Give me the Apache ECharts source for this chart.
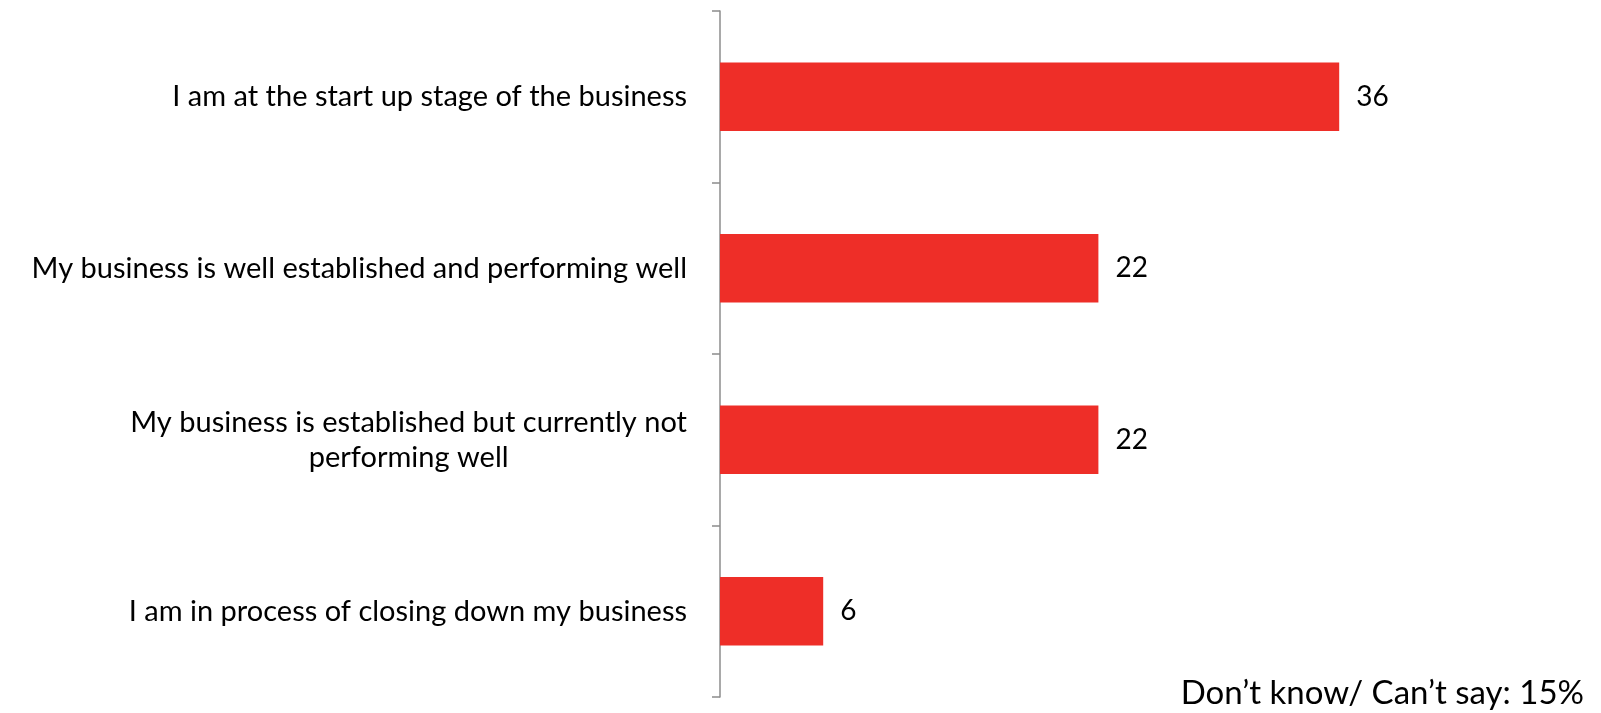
<!DOCTYPE html>
<html>
<head>
<meta charset="utf-8">
<script src="https://cdn.jsdelivr.net/npm/echarts@6/dist/echarts.min.js"></script>
<style>
  html, body { margin: 0; padding: 0; background: #fff; }
  #chart { width: 1601px; height: 713px; }
</style>
</head>
<body>
<div id="chart"></div>
<script>
// Business stage categories, top to bottom
const categories = [
  'I am at the start up stage of the business',
  'My business is well established and performing well',
  'My business is established but currently not\nperforming well',
  'I am in process of closing down my business'
];
// Share of respondents (%)
const values = [36, 22, 22, 6];
const footnote = 'Don\u2019t know/ Can\u2019t say: 15%';

const FONT = 'Lato';
const chart = echarts.init(document.getElementById('chart'));

chart.setOption({
  animation: false,
  grid: { left: 720, top: 11, width: 688, height: 686 },
  xAxis: {
    type: 'value', min: 0, max: 40, show: false
  },
  yAxis: {
    type: 'category',
    data: categories,
    inverse: true,
    axisLine: { show: true, lineStyle: { color: '#8c8c8c', width: 1.5 } },
    axisTick: { show: true, length: 8, lineStyle: { color: '#8c8c8c', width: 1.5 } },
    axisLabel: {
      margin: 33,
      fontFamily: FONT,
      fontSize: 29,
      color: '#000',
      lineHeight: 35,
      formatter: function (v) {
        return v.split('\n').map(function (l) { return '{c|' + l + '}'; }).join('\n');
      },
      rich: {
        c: { align: 'center', fontFamily: FONT, fontSize: 29, color: '#000', lineHeight: 35 }
      }
    }
  },
  series: [{
    type: 'bar',
    data: values,
    barWidth: '40%',
    itemStyle: { color: '#EE2E28' },
    label: {
      show: true,
      position: 'right',
      distance: 17,
      fontFamily: FONT,
      fontSize: 28,
      color: '#000'
    }
  }],
  graphic: [{
    type: 'text',
    x: 1584,
    y: 693,
    style: {
      text: footnote,
      font: '33px ' + FONT,
      fill: '#000',
      align: 'right',
      verticalAlign: 'middle'
    }
  }]
});
</script>
</body>
</html>
